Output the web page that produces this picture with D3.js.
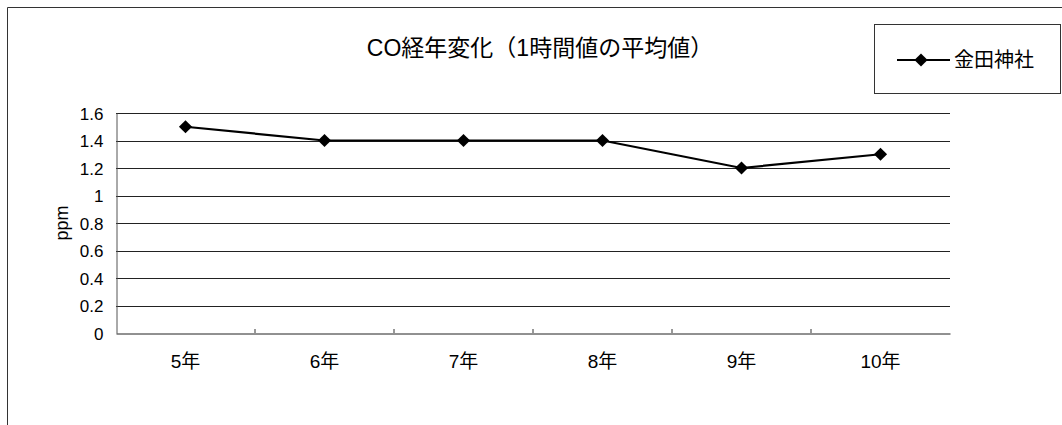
<!DOCTYPE html>
<html>
<head>
<meta charset="utf-8">
<script src="https://cdn.jsdelivr.net/npm/d3@7/dist/d3.min.js"></script>
<style>
  html, body { margin: 0; padding: 0; background: #fff; }
  svg text { font-family: "Liberation Sans", Arial, "Noto Sans CJK JP", sans-serif; fill: #000; }
</style>
</head>
<body>
<svg id="chart" width="1062" height="425"></svg>
<script>
// Annual averages of hourly CO readings
const years = ["5年", "6年", "7年", "8年", "9年", "10年"];
const coValues = [1.5, 1.4, 1.4, 1.4, 1.2, 1.3];
const yTicks = [0, 0.2, 0.4, 0.6, 0.8, 1, 1.2, 1.4, 1.6];
const seriesName = "金田神社";
const chartTitle = "CO経年変化（1時間値の平均値）";
const yTitle = "ppm";

const svg = d3.select("#chart");
const W = 1062, H = 425;
const plot = { left: 116, right: 950, top: 113, bottom: 333 };

// outer chart frame (runs off the bottom/right edge)
svg.append("path")
  .attr("d", `M7.5,${H + 2} L7.5,7.5 L${W + 2},7.5`)
  .attr("fill", "none").attr("stroke", "#333").attr("stroke-width", 1);

const x = d3.scaleBand().domain(years).range([plot.left, plot.right]);
const y = d3.scaleLinear().domain([0, 1.6]).range([plot.bottom, plot.top]);

// horizontal gridlines
svg.append("g").selectAll("line").data(yTicks.filter(t => t > 0)).join("line")
  .attr("x1", plot.left).attr("x2", plot.right)
  .attr("y1", d => Math.round(y(d)) + 0.5).attr("y2", d => Math.round(y(d)) + 0.5)
  .attr("stroke", "#222").attr("stroke-width", 1);

// y axis
const yAxis = svg.append("g")
  .attr("transform", `translate(${plot.left + 0.5},0)`)
  .call(d3.axisLeft(y).tickValues(yTicks).tickFormat(d3.format("~g")).tickSize(0).tickPadding(13));
yAxis.attr("font-size", null).attr("font-family", null);
yAxis.select(".domain").attr("stroke", "#555");
yAxis.selectAll("text").style("font-size", "17px").attr("dy", "0.36em");

// x axis with ticks between categories
const xAxis = svg.append("g")
  .attr("transform", `translate(0,${Math.round(plot.bottom) + 0.5})`)
  .call(d3.axisBottom(x).tickSize(0).tickPadding(21));
xAxis.attr("font-size", null).attr("font-family", null);
xAxis.select(".domain").attr("stroke", "#222");
xAxis.selectAll("text").style("font-size", "19px");
svg.append("g").selectAll("line").data(years.slice(1)).join("line")
  .attr("x1", d => x(d)).attr("x2", d => x(d))
  .attr("y1", plot.bottom).attr("y2", plot.bottom - 4)
  .attr("stroke", "#333");

// y axis title
svg.append("text")
  .attr("transform", `translate(68,${(plot.top + plot.bottom) / 2}) rotate(-90)`)
  .attr("text-anchor", "middle").style("font-size", "18px")
  .text(yTitle);

// chart title
svg.append("text")
  .attr("x", 540).attr("y", 56)
  .attr("text-anchor", "middle").style("font-size", "23px")
  .text(chartTitle);

// data line and diamond markers
const cx = d => x(d) + x.bandwidth() / 2;
const line = d3.line().x((d, i) => cx(years[i])).y(d => y(d));
svg.append("path").datum(coValues)
  .attr("d", line).attr("fill", "none").attr("stroke", "#000").attr("stroke-width", 2.2);

const diamond = d3.symbol().type(d3.symbolDiamond2).size(110);
svg.append("g").selectAll("path").data(coValues).join("path")
  .attr("transform", (d, i) => `translate(${cx(years[i])},${y(d)})`)
  .attr("d", diamond).attr("fill", "#000");

// legend
const lg = svg.append("g");
lg.append("rect").attr("x", 874.5).attr("y", 24.5).attr("width", 186).attr("height", 69)
  .attr("fill", "#fff").attr("stroke", "#333");
lg.append("line").attr("x1", 897).attr("x2", 950).attr("y1", 60).attr("y2", 60)
  .attr("stroke", "#000").attr("stroke-width", 2.2);
lg.append("path").attr("transform", "translate(921,60)").attr("d", diamond).attr("fill", "#000");
lg.append("text").attr("x", 954).attr("y", 67).style("font-size", "20px").text(seriesName);
</script>
</body>
</html>
